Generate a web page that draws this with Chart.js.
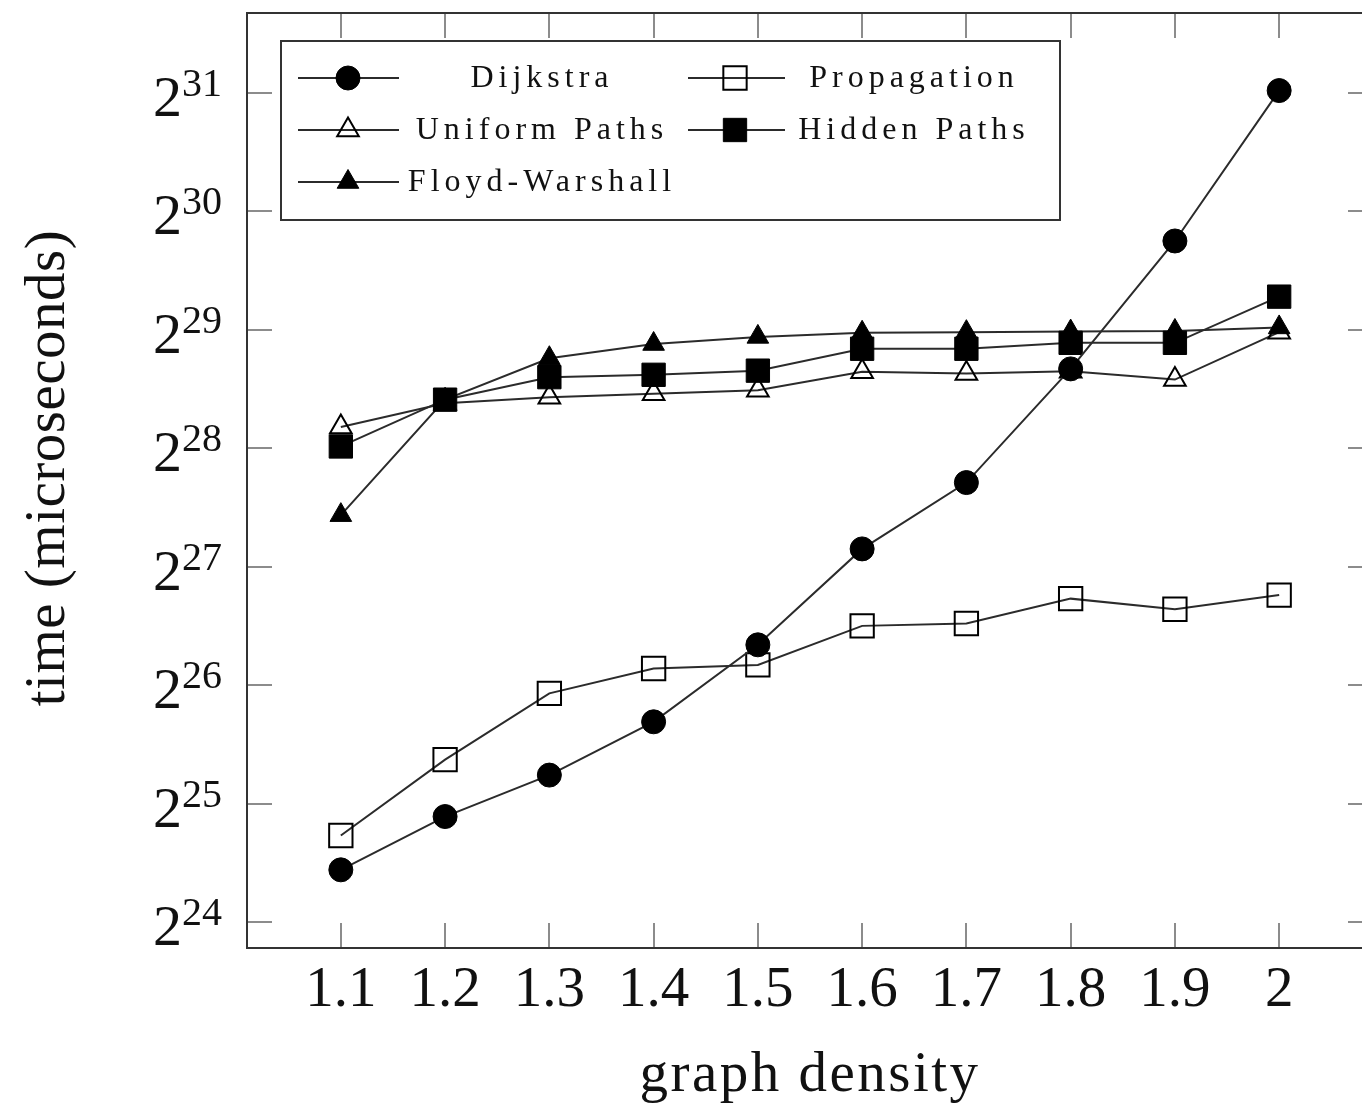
<!DOCTYPE html>
<html lang="en">
<head>
<meta charset="UTF-8">
<title>Shortest path running time vs graph density</title>
<script src="https://cdn.jsdelivr.net/npm/chart.js"></script>
<style>
    html, body {
        margin: 0;
        padding: 0;
        background: #fff;
        overflow: hidden;
    }
    #wrap {
        width: 1380px;
        height: 1108px;
    }
</style>
</head>
<body>
<div id="wrap"><canvas id="timeChart" width="1380" height="1108"></canvas></div>

<script>
    // x positions (graph density) and axis ticks
    const densities = [1.1, 1.2, 1.3, 1.4, 1.5, 1.6, 1.7, 1.8, 1.9, 2];
    const xTickLabels = ['1.1', '1.2', '1.3', '1.4', '1.5', '1.6', '1.7', '1.8', '1.9', '2'];
    const yTickExponents = [24, 25, 26, 27, 28, 29, 30, 31];

    // log2 of time in microseconds
    const dijkstra     = [24.44, 24.89, 25.24, 25.69, 26.34, 27.15, 27.71, 28.67, 29.75, 31.02];
    const propagation  = [24.73, 25.37, 25.93, 26.14, 26.17, 26.50, 26.52, 26.73, 26.64, 26.76];
    const uniformPaths = [28.18, 28.38, 28.43, 28.46, 28.49, 28.645, 28.63, 28.65, 28.58, 28.98];
    const hiddenPaths  = [28.015, 28.41, 28.60, 28.62, 28.655, 28.84, 28.84, 28.89, 28.89, 29.28];
    const floydWarshall = [27.435, 28.41, 28.76, 28.88, 28.94, 28.975, 28.98, 28.985, 28.99, 29.02];

    const SERIF = '"Liberation Serif", "DejaVu Serif", serif';

    // legend order is row by row, two columns
    const series = [
        { label: 'Dijkstra',       values: dijkstra,      style: 'circle',   filled: true,  radius: 12,   order: 0 },
        { label: 'Propagation',    values: propagation,   style: 'rect',     filled: false, radius: 16.5, order: 4 },
        { label: 'Uniform Paths',  values: uniformPaths,  style: 'triangle', filled: false, radius: 12.5, order: 3 },
        { label: 'Hidden Paths',   values: hiddenPaths,   style: 'rect',     filled: true,  radius: 16.5, order: 1 },
        { label: 'Floyd-Warshall', values: floydWarshall, style: 'triangle', filled: true,  radius: 12.5, order: 2 }
    ];

    function drawMark(ctx, style, x, y, r, filled) {
        ctx.beginPath();
        if (style === 'circle') {
            ctx.arc(x, y, r, 0, Math.PI * 2);
        } else if (style === 'rect') {
            const s = r * Math.SQRT1_2;
            ctx.rect(x - s, y - s, 2 * s, 2 * s);
        } else {
            ctx.moveTo(x, y - r);
            ctx.lineTo(x + r * 0.866, y + r / 2);
            ctx.lineTo(x - r * 0.866, y + r / 2);
            ctx.closePath();
        }
        ctx.fillStyle = '#000';
        ctx.strokeStyle = '#000';
        ctx.lineWidth = filled ? 1 : 2;
        if (filled) ctx.fill();
        ctx.stroke();
    }

    // pgfplots-like box axis: inward ticks on all four sides, labels, titles, legend
    const boxAxis = {
        id: 'boxAxis',
        beforeDatasetsDraw(chart) {
            const { ctx, chartArea: a, scales: { x, y } } = chart;
            ctx.save();
            ctx.strokeStyle = '#8c8c8c';
            ctx.lineWidth = 2;
            ctx.beginPath();
            densities.forEach(d => {
                const px = Math.round(x.getPixelForValue(d));
                ctx.moveTo(px, a.bottom); ctx.lineTo(px, a.bottom - 25);
                ctx.moveTo(px, a.top);    ctx.lineTo(px, a.top + 25);
            });
            yTickExponents.forEach(e => {
                const py = Math.round(y.getPixelForValue(e));
                ctx.moveTo(a.left, py);  ctx.lineTo(a.left + 25, py);
                ctx.moveTo(a.right, py); ctx.lineTo(a.right - 25, py);
            });
            ctx.stroke();
            ctx.restore();
        },
        afterDraw(chart) {
            const { ctx, chartArea: a, scales: { x, y } } = chart;
            ctx.save();

            // frame
            ctx.strokeStyle = '#333';
            ctx.lineWidth = 2;
            ctx.strokeRect(a.left, a.top, a.right - a.left, a.bottom - a.top);

            ctx.fillStyle = '#111';

            // x tick labels
            ctx.font = `57px ${SERIF}`;
            ctx.textAlign = 'center';
            ctx.textBaseline = 'alphabetic';
            densities.forEach((d, i) => {
                ctx.fillText(xTickLabels[i], x.getPixelForValue(d), a.bottom + 58);
            });

            // y tick labels as 2^n
            ctx.textAlign = 'left';
            yTickExponents.forEach(e => {
                const py = y.getPixelForValue(e);
                ctx.font = `40px ${SERIF}`;
                const wSup = ctx.measureText(String(e)).width;
                ctx.font = `58px ${SERIF}`;
                const wBase = ctx.measureText('2').width;
                const right = a.left - 25;
                ctx.fillText('2', right - wSup - wBase, py + 23);
                ctx.font = `40px ${SERIF}`;
                ctx.fillText(String(e), right - wSup, py + 3);
            });

            // axis titles
            ctx.font = `57px ${SERIF}`;
            ctx.textAlign = 'center';
            ctx.letterSpacing = '2.5px';
            ctx.fillText('graph density', 810, 1091);
            ctx.letterSpacing = '0.5px';
            ctx.save();
            ctx.translate(64, 468);
            ctx.rotate(-Math.PI / 2);
            ctx.fillText('time (microseconds)', 0, 0);
            ctx.restore();

            // legend
            const lx = a.left + 34, ly = a.top + 28, lw = 779, lh = 179;
            ctx.fillStyle = '#fff';
            ctx.fillRect(lx, ly, lw, lh);
            ctx.strokeStyle = '#333';
            ctx.lineWidth = 2;
            ctx.strokeRect(lx, ly, lw, lh);

            const cols = [
                { lineFrom: 298, lineTo: 399, mark: 348, text: 542 },
                { lineFrom: 688, lineTo: 785, mark: 735, text: 914 }
            ];
            ctx.font = `32px ${SERIF}`;
            ctx.letterSpacing = '5px';
            series.forEach((s, i) => {
                const c = cols[i % 2];
                const ry = 78 + Math.floor(i / 2) * 52;
                ctx.strokeStyle = '#2b2b2b';
                ctx.lineWidth = 2;
                ctx.beginPath();
                ctx.moveTo(c.lineFrom, ry);
                ctx.lineTo(c.lineTo, ry);
                ctx.stroke();
                drawMark(ctx, s.style, c.mark, ry, s.radius, s.filled);
                ctx.fillStyle = '#111';
                ctx.textAlign = 'center';
                ctx.fillText(s.label, c.text, ry + 9);
            });
            ctx.restore();
        }
    };

    const ctx = document.getElementById('timeChart').getContext('2d');
    const timeChart = new Chart(ctx, {
        type: 'line',
        data: {
            datasets: series.map(s => ({
                label: s.label,
                data: densities.map((d, i) => ({ x: d, y: s.values[i] })),
                borderColor: '#2b2b2b',
                borderWidth: 2,
                tension: 0,
                fill: false,
                pointStyle: s.style,
                pointRadius: s.radius,
                pointBackgroundColor: s.filled ? '#000' : 'rgba(0,0,0,0)',
                pointBorderColor: '#000',
                pointBorderWidth: s.filled ? 1 : 2,
                order: s.order,
                clip: false
            }))
        },
        options: {
            responsive: false,
            devicePixelRatio: 1,
            animation: false,
            events: [],
            layout: {
                autoPadding: false,
                padding: { left: 247, top: 13, right: 7, bottom: 160 }
            },
            scales: {
                x: { type: 'linear', min: 1.01, max: 2.09, display: false },
                y: { type: 'linear', min: 23.78, max: 31.675, display: false }
            },
            plugins: {
                legend: { display: false },
                tooltip: { enabled: false }
            }
        },
        plugins: [boxAxis]
    });
</script>
</body>
</html>
